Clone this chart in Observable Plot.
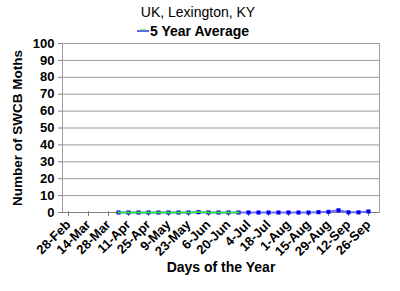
<!DOCTYPE html>
<html>
<head>
<meta charset="utf-8">
<script src="https://cdn.jsdelivr.net/npm/d3@7"></script>
<script src="https://cdn.jsdelivr.net/npm/@observablehq/plot@0.6"></script>
<style>
  html, body { margin: 0; padding: 0; background: #fff; }
  #wrap { position: relative; width: 400px; height: 291px; font-family: "Liberation Sans", Arial, sans-serif; }
  #title { position: absolute; left: 0; width: 396px; top: 4px; text-align: center; font-size: 14px; color: #000; }
  #legend { position: absolute; left: 136px; top: 23px; font-size: 14px; font-weight: bold; color: #000; display: flex; align-items: center; }
  #chart { position: absolute; left: 0; top: 0; }
</style>
</head>
<body>
<div id="wrap">
  <div id="chart"></div>
  <div id="title">UK, Lexington, KY</div>
  <div id="legend"><svg width="14" height="10"><line x1="1" y1="5" x2="13" y2="5" stroke="#6060ff" stroke-width="2"/><line x1="4" y1="4" x2="10" y2="4" stroke="#33cc33" stroke-width="1"/></svg><span>5 Year Average</span></div>
</div>
<script>
const dates = ["28-Feb","7-Mar","14-Mar","21-Mar","28-Mar","4-Apr","11-Apr","18-Apr","25-Apr","2-May","9-May","16-May","23-May","30-May","6-Jun","13-Jun","20-Jun","27-Jun","4-Jul","11-Jul","18-Jul","25-Jul","1-Aug","8-Aug","15-Aug","22-Aug","29-Aug","5-Sep","12-Sep","19-Sep","26-Sep"];
const tickLabels = ["28-Feb","14-Mar","28-Mar","11-Apr","25-Apr","9-May","23-May","6-Jun","20-Jun","4-Jul","18-Jul","1-Aug","15-Aug","29-Aug","12-Sep","26-Sep"];
const avgValues = [null,null,null,null,null,0,0,0,0,0,0,0,0,0.2,0,0,0,0,0,0,0,0,0,0,0,0.2,0.4,1.3,0.1,0.1,0.6];
const currentValues = [null,null,null,null,null,0,0,0,0,0,0,0,0,0.3,0,0,0,0,null,null,null,null,null,null,null,null,null,null,null,null,null];
const yTicks = [0,10,20,30,40,50,60,70,80,90,100];

const avg = dates.map((d, i) => ({date: d, value: avgValues[i]})).filter(d => d.value != null);
const cur = dates.map((d, i) => ({date: d, value: currentValues[i]})).filter(d => d.value != null);

const chart = Plot.plot({
  width: 400,
  height: 291,
  marginLeft: 62,
  marginRight: 21,
  marginTop: 43,
  marginBottom: 79,
  style: {fontFamily: "'Liberation Sans', Arial, sans-serif", background: "transparent", overflow: "visible"},
  x: {type: "point", domain: dates, padding: 0, insetRight: 5, label: null},
  y: {domain: [0, 100], label: null},
  marks: [
    Plot.gridY(yTicks, {stroke: "#999", strokeOpacity: 1, strokeWidth: 1}),
    Plot.frame({stroke: "#a0a0a0"}),
    Plot.axisY(yTicks, {tickSize: 4, tickPadding: 4, stroke: "#808080", fontSize: 13, fontWeight: "bold", fill: "#000"}),
    Plot.ruleX(tickLabels, {x: d => d, y1: 0, y2: 0, insetTop: -1, insetBottom: -4, stroke: "#808080"}),
    Plot.axisX(tickLabels, {tickSize: 0, tickRotate: -45, tickPadding: 10, fontSize: 13, fontWeight: "bold", fill: "#000", textAnchor: "end"}),
    Plot.ruleY([0], {stroke: "#808080"}),
    Plot.line(avg, {x: "date", y: "value", stroke: "#7070ff", strokeWidth: 2}),
    Plot.dot(avg, {x: "date", y: "value", symbol: "square", r: 2.3, fill: "#0000ee", stroke: "none"}),
    Plot.line(cur, {x: "date", y: "value", stroke: "#22ee22", strokeWidth: 1.5}),
    Plot.dot(cur, {x: "date", y: "value", symbol: "square", r: 1.2, fill: "#33dd33", stroke: "none"}),
    Plot.text(["Number of SWCB Moths"], {frameAnchor: "left", dx: -45, rotate: -90, textAnchor: "middle", fontSize: 13.5, fontWeight: "bold", fill: "#000"}),
    Plot.text(["Days of the Year"], {frameAnchor: "bottom", dy: 59, fontSize: 14, fontWeight: "bold", fill: "#000"})
  ]
});
document.getElementById("chart").appendChild(chart);
</script>
</body>
</html>
